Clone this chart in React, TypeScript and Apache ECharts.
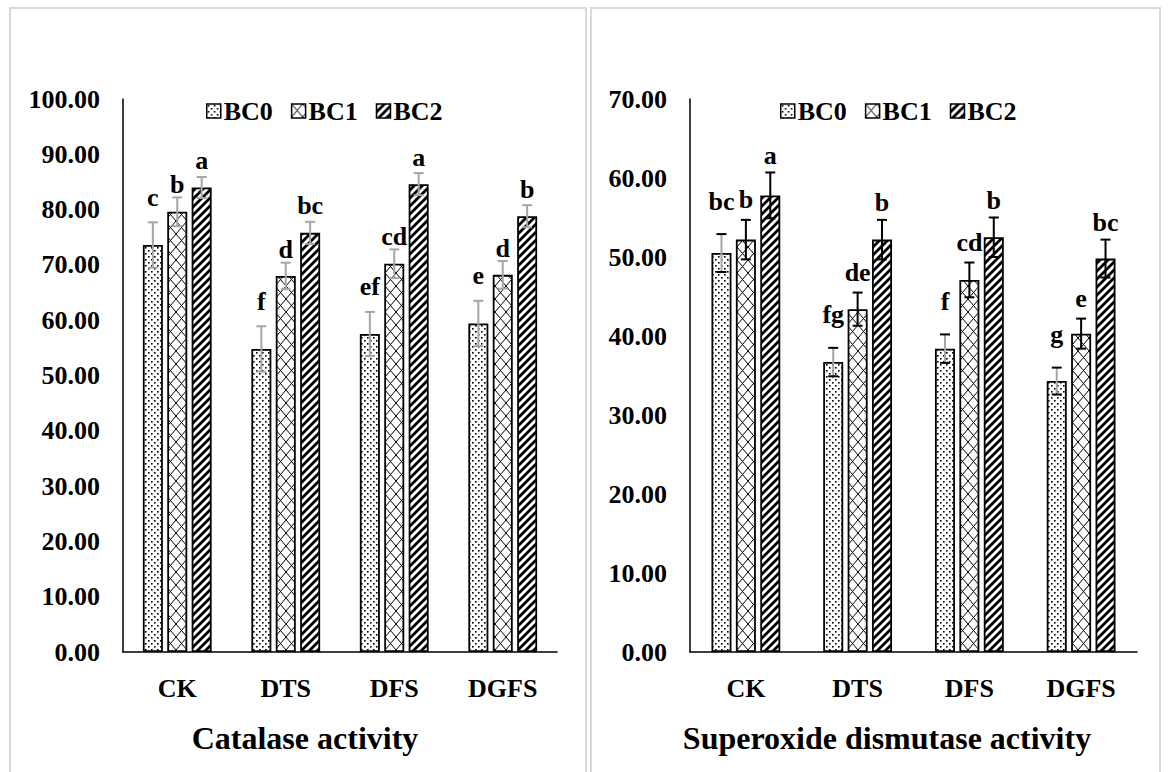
import React, { useEffect, useRef } from 'react';
import * as echarts from 'echarts';

const categories = ['CK', 'DTS', 'DFS', 'DGFS'];
const groupNames = ['BC0', 'BC1', 'BC2'];

// Catalase activity
const catalaseBC0 = [73.6, 54.8, 57.5, 59.4];
const catalaseBC1 = [79.6, 68.0, 70.2, 68.2];
const catalaseBC2 = [84.0, 75.8, 84.6, 78.8];
const catalaseErr0 = [4.1, 4.1, 4.0, 4.1];
const catalaseErr1 = [2.6, 2.4, 2.6, 2.5];
const catalaseErr2 = [1.9, 2.0, 2.0, 2.0];
const catalaseLetters0 = ['c', 'f', 'ef', 'e'];
const catalaseLetters1 = ['b', 'd', 'cd', 'd'];
const catalaseLetters2 = ['a', 'bc', 'a', 'b'];

// Superoxide dismutase activity
const sodBC0 = [50.5, 36.7, 38.4, 34.3];
const sodBC1 = [52.2, 43.4, 47.1, 40.3];
const sodBC2 = [57.8, 52.2, 52.5, 49.8];
const sodErr0 = [2.4, 1.8, 1.8, 1.7];
const sodErr1 = [2.5, 2.1, 2.2, 1.9];
const sodErr2 = [2.9, 2.5, 2.5, 2.4];
const sodLetters0 = ['bc', 'fg', 'f', 'g'];
const sodLetters1 = ['b', 'de', 'cd', 'e'];
const sodLetters2 = ['a', 'b', 'b', 'bc'];

const FONT = 'Liberation Serif';

function makePattern(kind: string) {
  const c = document.createElement('canvas');
  const ctx = c.getContext('2d') as CanvasRenderingContext2D;
  if (kind === 'dots') {
    c.width = 6; c.height = 6;
    ctx.fillStyle = '#fff'; ctx.fillRect(0, 0, 6, 6);
    ctx.fillStyle = '#000';
    ctx.fillRect(1, 1, 1.6, 1.6);
    ctx.fillRect(4, 4, 1.6, 1.6);
  } else if (kind === 'lattice') {
    c.width = 11; c.height = 13;
    ctx.fillStyle = '#fff'; ctx.fillRect(0, 0, 11, 13);
    ctx.strokeStyle = '#000'; ctx.lineWidth = 1;
    ctx.beginPath();
    ctx.moveTo(0, 0); ctx.lineTo(11, 13);
    ctx.moveTo(11, 0); ctx.lineTo(0, 13);
    ctx.stroke();
  } else {
    c.width = 8; c.height = 8;
    ctx.fillStyle = '#fff'; ctx.fillRect(0, 0, 8, 8);
    ctx.strokeStyle = '#000'; ctx.lineWidth = 2.8;
    ctx.beginPath();
    ctx.moveTo(-2, 10); ctx.lineTo(10, -2);
    ctx.moveTo(-6, 6); ctx.lineTo(6, -6);
    ctx.moveTo(2, 14); ctx.lineTo(14, 2);
    ctx.stroke();
  }
  return { image: c, repeat: 'repeat' };
}

export default function App() {
  const ref = useRef<HTMLDivElement>(null);
  useEffect(() => {
    if (!ref.current) return;
    const chart = echarts.init(ref.current, undefined, { renderer: 'svg' });
    const patterns = [makePattern('dots'), makePattern('lattice'), makePattern('stripes')];

    const barW = 20;
    const step = 24.4;

    const textStyle = { fontFamily: FONT, fontWeight: 'bold' as const, fontSize: 26, color: '#000' };

    const barSeries = (gi: number, k: number, values: number[]) => ({
      type: 'bar',
      name: groupNames[k],
      xAxisIndex: gi,
      yAxisIndex: gi,
      data: values,
      barWidth: barW,
      barGap: '22%',
      itemStyle: { color: patterns[k], borderColor: '#000', borderWidth: 1.8 },
      emphasis: { disabled: true },
      z: 2,
    });

    const errSeries = (
      gi: number, k: number, values: number[], errs: number[], letters: string[],
      stemColor: string, capColor: string, labelOffset: number
    ) => ({
      type: 'custom',
      name: groupNames[k] + ' error',
      xAxisIndex: gi,
      yAxisIndex: gi,
      z: 5,
      silent: true,
      encode: { x: 0, y: [1, 2] },
      data: values.map((v, i) => [i, v + errs[i], v - errs[i]]),
      renderItem: (params: any, api: any) => {
        const i = api.value(0);
        const hi = api.coord([i, api.value(1)]);
        const lo = api.coord([i, api.value(2)]);
        const x = hi[0] + (k - 1) * step;
        const cap = 5;
        return {
          type: 'group',
          children: [
            { type: 'line', shape: { x1: x, y1: hi[1], x2: x, y2: lo[1] }, style: { stroke: stemColor, lineWidth: 2 } },
            { type: 'line', shape: { x1: x - cap, y1: hi[1], x2: x + cap, y2: hi[1] }, style: { stroke: capColor, lineWidth: 2 } },
            { type: 'line', shape: { x1: x - cap, y1: lo[1], x2: x + cap, y2: lo[1] }, style: { stroke: capColor, lineWidth: 2 } },
            {
              type: 'text',
              x: x,
              y: hi[1] + labelOffset,
              style: {
                text: letters[params.dataIndex],
                fontFamily: FONT, fontWeight: 'bold', fontSize: 26, fill: '#000',
                align: 'center', verticalAlign: 'bottom',
              },
            },
          ],
        };
      },
    });

    const xAxisBase = (gi: number) => ({
      type: 'category',
      gridIndex: gi,
      data: categories,
      axisLine: { lineStyle: { color: '#000', width: 1.5 } },
      axisTick: { show: false },
      axisLabel: { ...textStyle, margin: 23 },
    });
    const yAxisBase = (gi: number, max: number) => ({
      type: 'value',
      gridIndex: gi,
      min: 0,
      max,
      interval: 10,
      axisLine: { show: true, lineStyle: { color: '#000', width: 1.5 } },
      axisTick: { show: false },
      splitLine: { show: false },
      axisLabel: { ...textStyle, margin: 23, formatter: (v: number) => v.toFixed(2) },
    });
    const legendBase = (left: number) => ({
      data: groupNames,
      left,
      top: 93,
      itemWidth: 14,
      itemHeight: 14,
      itemGap: 18,
      icon: 'rect',
      selectedMode: false,
      textStyle: { ...textStyle, padding: [0, 0, 0, -2] },
      itemStyle: { borderColor: '#000', borderWidth: 1.5 },
    });

    chart.setOption({
      animation: false,
      backgroundColor: '#fff',
      grid: [
        { left: 123, top: 99, width: 434, height: 553 },
        { left: 690, top: 99, width: 447, height: 553 },
      ],
      xAxis: [xAxisBase(0), xAxisBase(1)],
      yAxis: [yAxisBase(0, 100), yAxisBase(1, 70)],
      legend: [legendBase(201), legendBase(775)],
      series: [
        barSeries(0, 0, catalaseBC0),
        barSeries(0, 1, catalaseBC1),
        barSeries(0, 2, catalaseBC2),
        barSeries(1, 0, sodBC0),
        barSeries(1, 1, sodBC1),
        barSeries(1, 2, sodBC2),
        errSeries(0, 0, catalaseBC0, catalaseErr0, catalaseLetters0, '#a6a6a6', '#a6a6a6', -12),
        errSeries(0, 1, catalaseBC1, catalaseErr1, catalaseLetters1, '#a6a6a6', '#a6a6a6', 0),
        errSeries(0, 2, catalaseBC2, catalaseErr2, catalaseLetters2, '#a6a6a6', '#a6a6a6', -3),
        errSeries(1, 0, sodBC0, sodErr0, sodLetters0, '#a6a6a6', '#000', -20),
        errSeries(1, 1, sodBC1, sodErr1, sodLetters1, '#000', '#000', -7),
        errSeries(1, 2, sodBC2, sodErr2, sodLetters2, '#000', '#000', -4),
      ],
      graphic: [
        { type: 'rect', z: -10, silent: true, shape: { x: 10, y: 8, width: 576, height: 780 }, style: { fill: 'none', stroke: '#d9d9d9', lineWidth: 2 } },
        { type: 'rect', z: -10, silent: true, shape: { x: 591, y: 8, width: 569, height: 780 }, style: { fill: 'none', stroke: '#d9d9d9', lineWidth: 2 } },
        { type: 'text', x: 305, y: 738, style: { text: 'Catalase activity', fontFamily: FONT, fontWeight: 'bold', fontSize: 32, fill: '#000', align: 'center', verticalAlign: 'middle' } },
        { type: 'text', x: 887, y: 738, style: { text: 'Superoxide dismutase activity', fontFamily: FONT, fontWeight: 'bold', fontSize: 32, fill: '#000', align: 'center', verticalAlign: 'middle' } },
      ],
    });
    return () => chart.dispose();
  }, []);
  return <div ref={ref} style={{ position: 'absolute', left: 0, top: 0, width: 1169, height: 772 }} />;
}
